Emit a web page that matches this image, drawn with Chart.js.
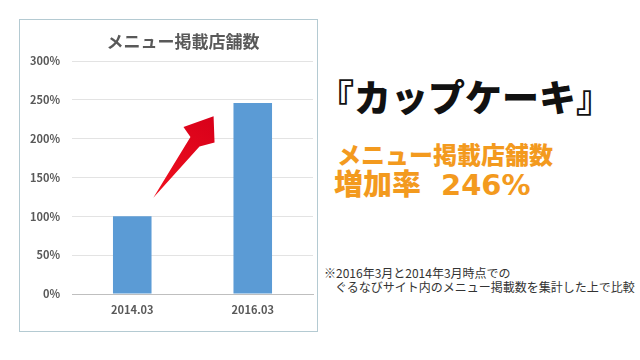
<!DOCTYPE html>
<html lang="ja">
<head>
<meta charset="utf-8">
<script src="https://cdn.jsdelivr.net/npm/chart.js@4"></script>
<style>
  html, body { margin: 0; padding: 0; background: #fff; }
  body { width: 640px; height: 360px; position: relative; overflow: hidden;
         font-family: "Noto Sans CJK JP", "Noto Sans", sans-serif; }
  #frame { position: absolute; left: 19px; top: 19px; width: 297px; height: 311px;
           border: 1px solid #b4cad2; }
  #frame canvas { display: block; }
  .txt { position: absolute; white-space: nowrap; }
  #product { left: 317px; top: 78px; font-size: 37px; font-weight: 900; color: #111; line-height: 1; }
  #label1 { left: 337px; top: 142px; font-size: 24px; font-weight: 900; color: #f39a1e; line-height: 1; }
  #label2 { left: 334px; top: 168px; font-size: 29px; font-weight: 900; color: #f39a1e; line-height: 1; }
  #label2 .num { font-family: "DejaVu Sans", sans-serif; font-weight: bold; margin-left: 20px; }
  #note { left: 324px; top: 266px; font-size: 12px; color: #333; line-height: 14px; }
  #note span { display: block; padding-left: 11px; }
</style>
</head>
<body>
<div id="frame"><canvas id="chart" width="297" height="311"></canvas></div>
<div class="txt" id="product">『カップケーキ』</div>
<div class="txt" id="label1">メニュー掲載店舗数</div>
<div class="txt" id="label2">増加率<span class="num">246%</span></div>
<div class="txt" id="note">※2016年3月と2014年3月時点での<span>ぐるなびサイト内のメニュー掲載数を集計した上で比較</span></div>
<script>
// データ
const categories = ['2014.03', '2016.03'];
const ratios = [100, 246];            // 2014.03 = 100%
const yTicks = [0, 50, 100, 150, 200, 250, 300];
const chartTitle = 'メニュー掲載店舗数';

// 矢印（データ座標: x=カテゴリ位置, y=%）
const arrowPts = [
  [0.175, 124], [0.483, 202], [0.425, 215], [0.675, 229],
  [0.683, 195], [0.558, 190]
];

const textColor = '#595959';
const fontFamily = '"Noto Sans CJK JP", "Noto Sans", sans-serif';

// タイトルと矢印を描くプラグイン
const decoPlugin = {
  id: 'deco',
  afterDatasetsDraw(chart) {
    const ctx = chart.ctx;
    const xs = chart.scales.x, ys = chart.scales.y;
    ctx.save();
    // 矢印
    ctx.beginPath();
    arrowPts.forEach((p, i) => {
      const px = xs.getPixelForValue(p[0]);
      const py = ys.getPixelForValue(p[1]);
      if (i === 0) ctx.moveTo(px, py); else ctx.lineTo(px, py);
    });
    ctx.closePath();
    const g = ctx.createLinearGradient(xs.getPixelForValue(0.175), ys.getPixelForValue(124),
                                       xs.getPixelForValue(0.675), ys.getPixelForValue(229));
    g.addColorStop(0, '#f0101e');
    g.addColorStop(1, '#d8001a');
    ctx.fillStyle = g;
    ctx.fill();
    // タイトル
    ctx.fillStyle = textColor;
    ctx.font = 'bold 17px ' + fontFamily;
    ctx.textAlign = 'center';
    ctx.textBaseline = 'middle';
    ctx.fillText(chartTitle, 163, 22);
    ctx.restore();
  }
};

new Chart(document.getElementById('chart').getContext('2d'), {
  type: 'bar',
  data: {
    labels: categories,
    datasets: [{
      data: ratios,
      backgroundColor: '#5b9bd5',
      barPercentage: 0.32,
      categoryPercentage: 1.0
    }]
  },
  options: {
    responsive: false,
    animation: false,
    layout: { padding: { top: 41, right: 4, left: 0, bottom: 0 } },
    plugins: { legend: { display: false }, title: { display: false }, tooltip: { enabled: false } },
    scales: {
      x: {
        grid: { display: false },
        border: { display: true, color: '#bfbfbf' },
        ticks: { color: textColor, font: { family: fontFamily, size: 11, weight: 'bold' }, padding: 1 },
        afterFit(scale) { scale.height = 37; }
      },
      y: {
        min: 0, max: 300,
        afterBuildTicks(scale) { scale.ticks = yTicks.map(v => ({ value: v })); },
        grid: { color: '#e3e3e3', drawTicks: false },
        border: { display: false },
        ticks: {
          color: textColor, font: { family: fontFamily, size: 11, weight: 'bold' }, padding: 12,
          callback: v => v + '%'
        },
        afterFit(scale) { scale.width = 52; }
      }
    }
  },
  plugins: [decoPlugin]
});
</script>
</body>
</html>
